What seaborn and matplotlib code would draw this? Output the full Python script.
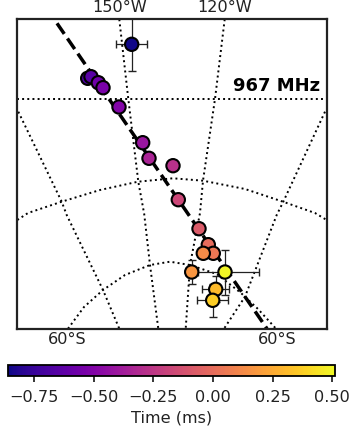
import numpy as np
import pandas as pd
import matplotlib
matplotlib.use('Agg')
import matplotlib.pyplot as plt
import seaborn as sns

# positions, in pixels
px = [131.7, 87.7, 91, 98.3, 103, 119, 142.7, 149, 173, 178.3, 199, 208.3, 213.3, 203.3, 191.7, 225, 215.7, 212.7]
py = [44.3, 78.3, 76.7, 82.7, 87.7, 107, 142.7, 158.3, 165.7, 199.7, 228.7, 244.7, 253.3, 253.3, 272, 272, 289.3, 300.3]
xerr = [15.7, 1, 1, 1, 1, 1, 1, 1, 1, 1, 1, 1, 1, 1, 6, 34, 13.7, 15.7]
yerr = [27, 1, 1, 1, 1, 1, 1, 1, 1, 1, 1, 1, 1, 1, 11.7, 22.5, 13, 16.7]
time_ms = [-0.85, -0.68, -0.65, -0.57, -0.53, -0.5, -0.41, -0.34, -0.28, -0.17, -0.08, 0.0, 0.05, 0.13, 0.17, 0.5, 0.31, 0.37]

# best fit line ends
fit_x = [57, 267]
fit_y = [23.3, 328.7]

# graticule, parallels and meridians
par1_x = [17.3, 326.7]
par1_y = [99, 99]
par2_x = [17.3, 28, 61.7, 100, 138, 173, 203, 245, 283, 315, 326.7]
par2_y = [220, 213, 201.7, 190, 181.7, 178.3, 180.7, 189, 201.7, 213, 220]
par3_x = [68, 84, 103, 125, 150, 170, 190, 216.7, 241, 258, 276]
par3_y = [328.7, 307, 290, 275, 265, 261.7, 265, 274, 293, 309, 328.7]
mer1_x = [119.3, 128.3, 138.3, 144.2, 150, 158.3]
mer1_y = [19.3, 99, 181.7, 214, 265, 328.7]
mer2_x = [224.7, 215, 203, 200, 190, 185.7]
mer2_y = [19.3, 99, 180.7, 213, 265, 328.7]
mer3_x = [18.3, 61.7, 66.7, 103, 119.3]
mer3_y = [111.7, 201.7, 215, 290, 328.7]
mer4_x = [325, 283.3, 276.7, 245, 224]
mer4_y = [111.7, 201.7, 215, 296.7, 328.7]

lon_labels = ['150°W', '120°W']
lat_labels = ['60°S', '60°S']
cbar_ticks = [-0.75, -0.5, -0.25, 0, 0.25, 0.5]
vmin, vmax = -0.859, 0.511

W, H = 355, 429
fig = plt.figure(figsize=(W/100, H/100), dpi=100)
ax = fig.add_axes([17.3/W, 1-328.7/H, 309.4/W, 309.4/H])

for gx, gy in [(par1_x, par1_y), (par2_x, par2_y), (par3_x, par3_y), (mer1_x, mer1_y),
               (mer2_x, mer2_y), (mer3_x, mer3_y), (mer4_x, mer4_y)]:
    ax.plot(gx, gy, color='k', ls=':', lw=1.4, zorder=1)

ax.plot(fit_x, fit_y, color='k', ls='--', lw=2.5, zorder=2)

# only the last points have visible error bars
for i in [0, 14, 15, 16, 17]:
    ax.errorbar(px[i], py[i], xerr=xerr[i], yerr=yerr[i], color='#222222', lw=0.9, capsize=2.6, capthick=1, zorder=3)

df = pd.DataFrame({'x': px, 'y': py, 't': time_ms})
sns.scatterplot(data=df, x='x', y='y', hue='t', palette='plasma', hue_norm=(vmin, vmax), s=92,
                edgecolor='k', linewidth=1.5, legend=False, ax=ax, zorder=4)

ax.set_xlim(17.3, 326.7)
ax.set_ylim(328.7, 19.3)
ax.set_xticks([])
ax.set_yticks([])
ax.set_xlabel('')
ax.set_ylabel('')
for s in ax.spines.values():
    s.set_linewidth(1.6)
    s.set_color('#222222')

fig.text(119.5/W, 1-7/H, lon_labels[0], ha='center', va='center', fontsize=11.6, color='#222222')
fig.text(225/W, 1-7/H, lon_labels[1], ha='center', va='center', fontsize=11.6, color='#222222')
fig.text(67/W, 1-339/H, lat_labels[0], ha='center', va='center', fontsize=11.6, color='#222222')
fig.text(277/W, 1-339/H, lat_labels[1], ha='center', va='center', fontsize=11.6, color='#222222')
ax.text(320, 86, '967 MHz', ha='right', va='center', fontsize=13, fontweight='bold')

cax = fig.add_axes([8/W, 1-376/H, 327/W, 11/H])
sm = plt.cm.ScalarMappable(norm=plt.Normalize(vmin, vmax), cmap='plasma')
cb = fig.colorbar(sm, cax=cax, orientation='horizontal')
cb.set_ticks(cbar_ticks)
cb.ax.tick_params(labelsize=11.6, length=4.5, width=1.1, pad=5.5, labelcolor='#222222')
cb.outline.set_linewidth(1.3)
cb.set_label('Time (ms)', fontsize=11.6, labelpad=4, color='#222222')

fig.savefig('out.png', dpi=100)
